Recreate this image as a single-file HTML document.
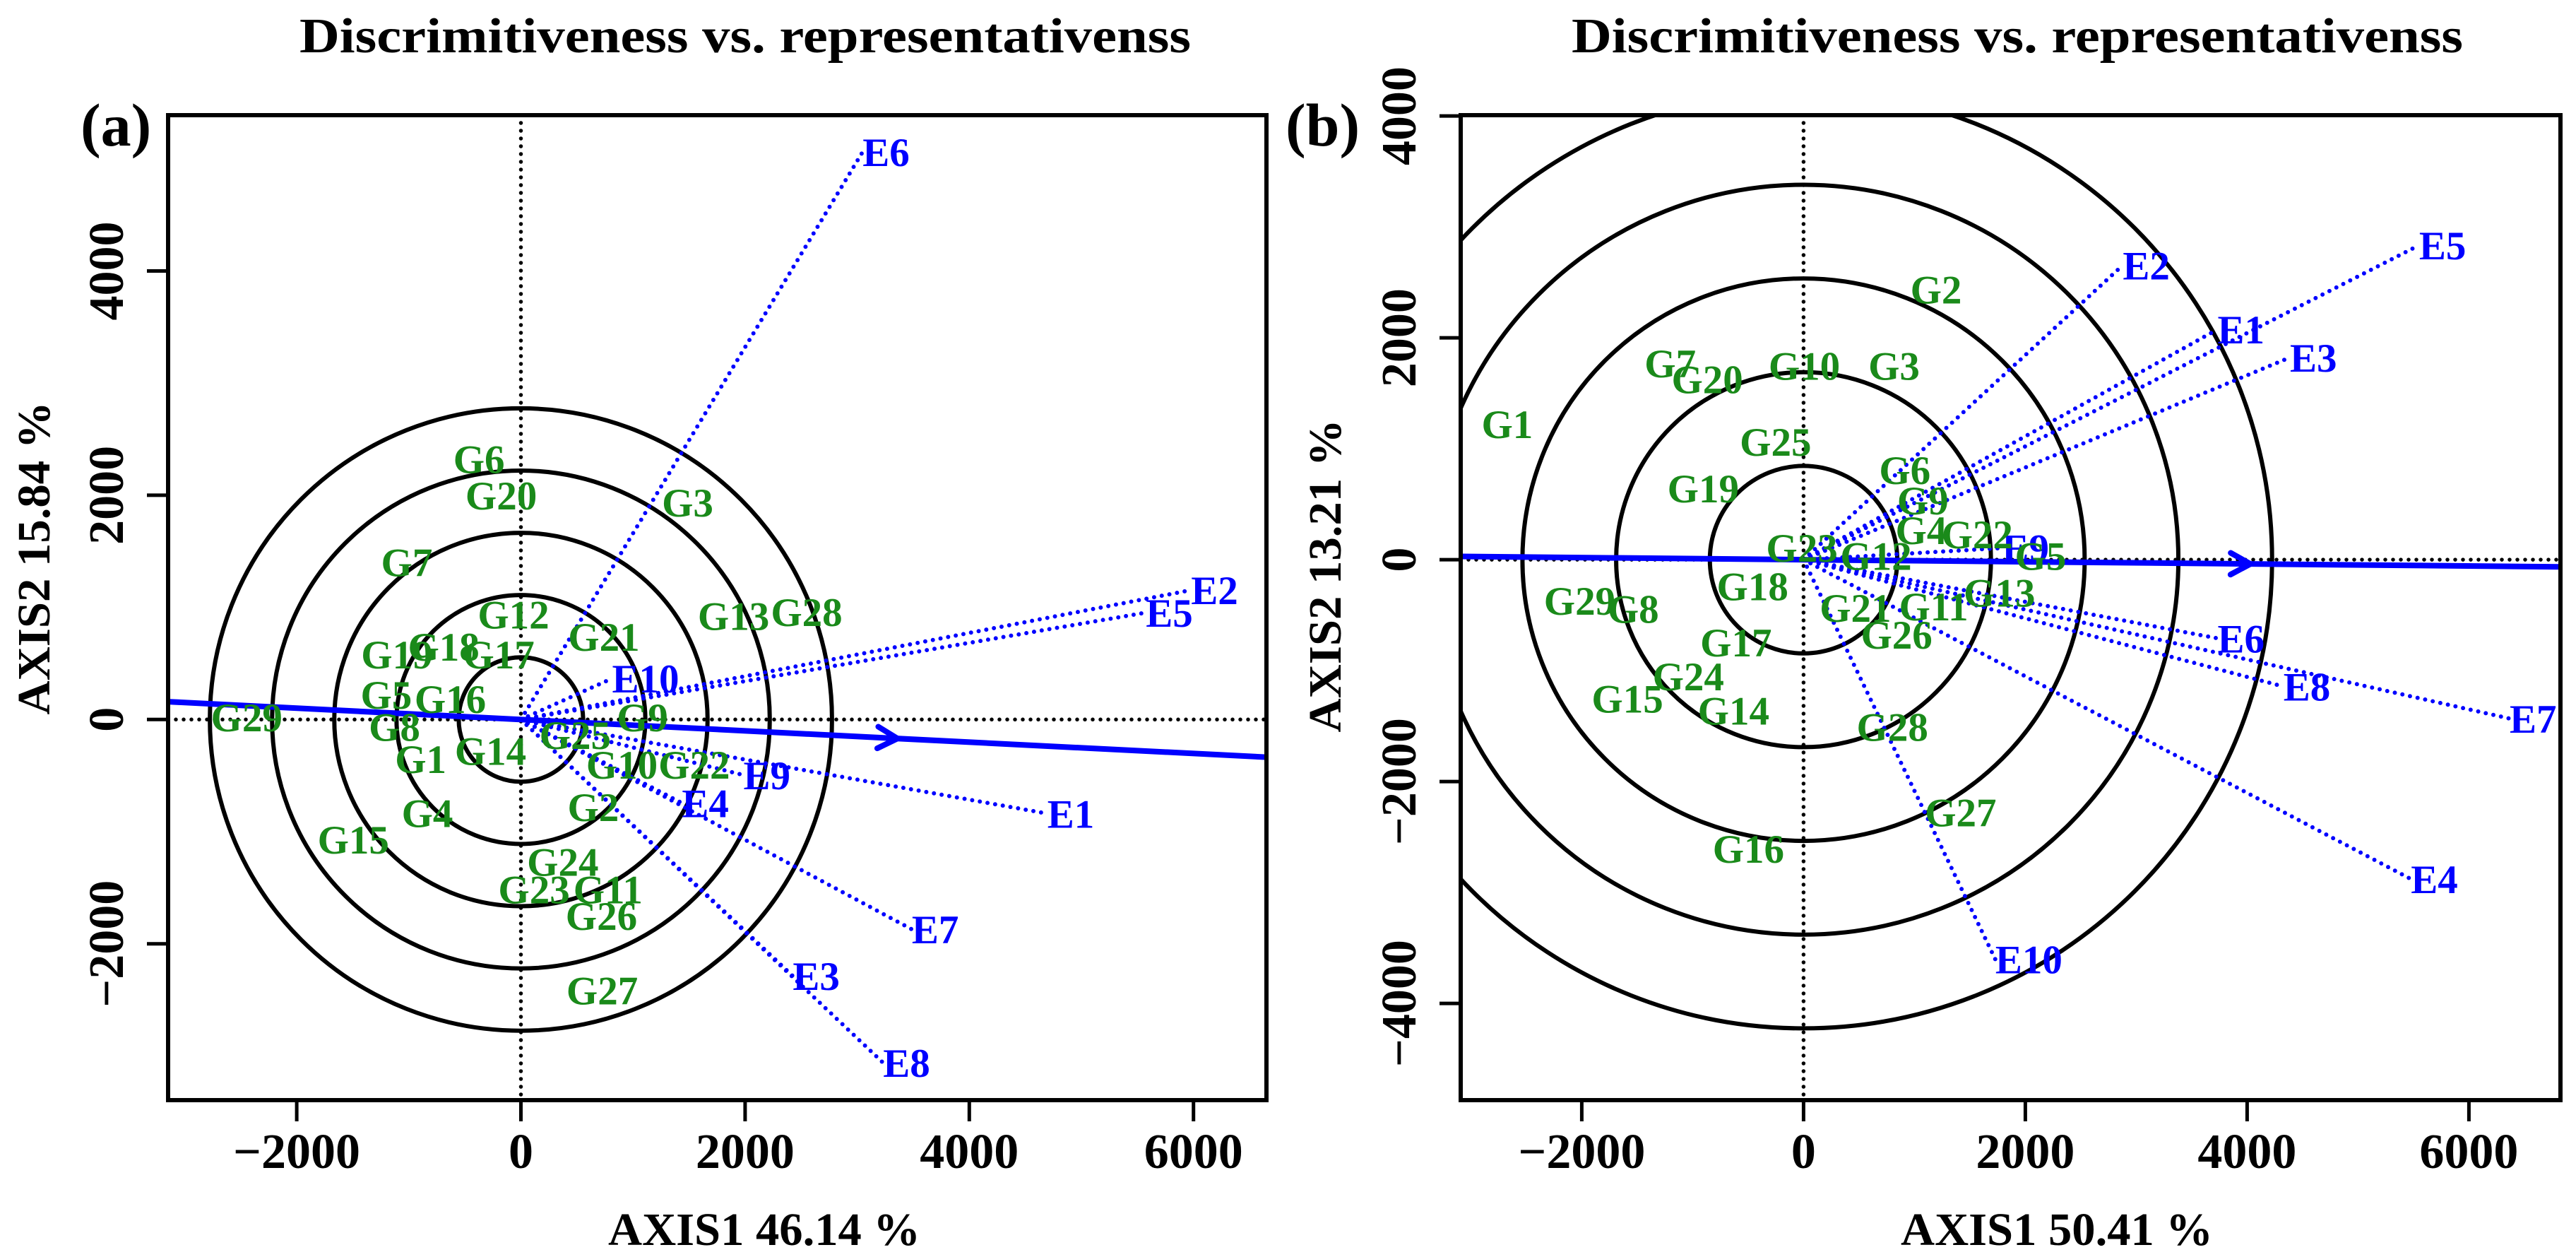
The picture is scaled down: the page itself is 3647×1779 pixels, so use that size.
<!DOCTYPE html>
<html><head><meta charset="utf-8"><style>
html,body{margin:0;padding:0;background:#fff;}
svg{display:block;font-family:"Liberation Serif","Times New Roman",serif;font-weight:bold;}
text{font-family:"Liberation Serif","Times New Roman",serif;font-weight:bold;}
</style></head><body>
<svg id="chart" width="3647" height="1779" viewBox="0 0 3647 1779" xmlns="http://www.w3.org/2000/svg">
<defs>
<clipPath id="clipA"><rect x="238" y="163" width="1555" height="1394"/></clipPath>
<clipPath id="clipB"><rect x="2068" y="163" width="1557" height="1394"/></clipPath>
</defs>
</svg>
<script>
// ---- Panel (a) data ----
const genoNamesA = ["G6","G20","G3","G7","G12","G21","G13","G28","G19","G18","G17","G5","G16","G29","G8","G1","G14","G25","G9","G10","G22","G2","G4","G15","G24","G23","G11","G26","G27"];
const genoXA = [-374,-176,1487,-1018,-66,740,1897,2549,-1106,-689,-198,-1201,-630,-2447,-1128,-894,-271,484,1084,901,1546,645,-835,-1495,374,117,777,718,725];
const genoYA = [2323,2000,1935,1405,939,738,925,961,581,652,581,222,186,22,-65,-351,-280,-136,22,-401,-401,-781,-832,-1068,-1269,-1513,-1513,-1749,-2416];
const envNamesA = ["E6","E2","E5","E10","E9","E1","E4","E7","E3","E8"];
const envXA = [3048,5978,5575,813,1985,4696,1436,3487,2425,3231];
const envYA = [5061,1154,953,366,-495,-839,-745,-1871,-2287,-3061];
const circleRadiiA = [555,1110,1665,2220,2775];
const aecSlopeA = -0.0505;
const aecArrowXA = 3360;
const xTicksA = [-2000,0,2000,4000,6000];
const yTicksA = [-2000,0,2000,4000];

// ---- Panel (b) data ----
const genoNamesB = ["G2","G7","G20","G10","G3","G1","G25","G6","G19","G9","G4","G22","G23","G12","G5","G18","G29","G8","G13","G21","G11","G26","G17","G24","G15","G14","G28","G27","G16"];
const genoXB = [1195,-1202,-868,7,816,-2672,-252,913,-905,1076,1061,1566,-15,653,2137,-460,-2019,-1536,1766,468,1173,839,-609,-1039,-1588,-631,801,1417,-497];
const genoYB = [2438,1772,1627,1750,1750,1222,1063,810,644,535,268,231,108,36,36,-239,-369,-441,-297,-434,-420,-673,-745,-1049,-1251,-1360,-1505,-2278,-2604];
const envNamesB = ["E2","E5","E1","E3","E9","E6","E8","E7","E4","E10"];
const envXB = [2879,5551,3733,4386,1790,3733,4327,6367,5477,1729];
const envYB = [2655,2835,2076,1823,105,-709,-1143,-1432,-2879,-3602];
const circleRadiiB = [845,1690,2535,3380,4225];
const aecSlopeB = -0.0095;
const aecArrowXB = 4030;
const xTicksB = [-2000,0,2000,4000,6000];
const yTicksB = [-4000,-2000,0,2000,4000];

const NS = "http://www.w3.org/2000/svg";
const FF = "Liberation Serif, Times New Roman, serif";
const svg = document.getElementById("chart");
function mk(tag, attrs, parent){
  const e = document.createElementNS(NS, tag);
  for (const k in attrs) e.setAttribute(k, attrs[k]);
  if (tag === "text") { e.setAttribute("font-family", FF); e.setAttribute("font-weight", "bold"); }
  (parent||svg).appendChild(e);
  return e;
}

function panel(cfg){
  const {L,R,T,B,ox,oy,s,xmin,xmax,clip,key} = cfg;
  const sx = v => ox + v*s;
  const sy = v => oy - v*s;
  const g = mk("g", {});
  
  
  const pg = mk("g", {"clip-path":"url(#"+clip+")"}, g);
  cfg.circles.forEach(r => {
    const c = mk("ellipse", {cx:sx(0), cy:sy(0), rx:r*s, ry:r*s, fill:"none", stroke:"#000", "stroke-width":6}, pg);
    
    
  });
  const dot = {"stroke-width":5.5, "stroke-dasharray":"0 11", "stroke-linecap":"round"};
  const h = mk("line", Object.assign({x1:L, x2:R, y1:sy(0), y2:sy(0), stroke:"#000"}, dot), pg);
  
  
  const v = mk("line", Object.assign({x1:sx(0), x2:sx(0), y1:T, y2:B, stroke:"#000"}, dot), pg);
  
  
  cfg.envX.forEach((x,i) => {
    const y = cfg.envY[i];
    const ln = mk("line", {x1:sx(0), y1:sy(0), x2:sx(x), y2:sy(y), stroke:"#0000ff", "stroke-width":6, "stroke-dasharray":"0 11", "stroke-linecap":"round"}, pg);
    
    
    const t = mk("text", {x:sx(x), y:sy(y)+20, fill:"#0000ff", "font-size":57, "text-anchor":"start"}, pg);
    t.textContent = cfg.envN[i];
    
    
  });
  const aec = mk("line", {x1:sx(xmin), y1:sy(xmin*cfg.slope), x2:sx(xmax), y2:sy(xmax*cfg.slope), stroke:"#0000ff", "stroke-width":8}, pg);
  
  
  const ax = sx(cfg.arrowX), ay = sy(cfg.arrowX*cfg.slope);
  const ang = Math.atan2(-cfg.slope, 1);
  const hl = 32, ha = 0.5;
  const p1x = ax - hl*Math.cos(ang-ha), p1y = ay - hl*Math.sin(ang-ha);
  const p2x = ax - hl*Math.cos(ang+ha), p2y = ay - hl*Math.sin(ang+ha);
  const arr = mk("polyline", {points:`${p1x},${p1y} ${ax},${ay} ${p2x},${p2y}`, fill:"none", stroke:"#0000ff", "stroke-width":8, "stroke-linecap":"round"}, pg);
  
  
  cfg.genX.forEach((x,i) => {
    const t = mk("text", {x:sx(x), y:sy(cfg.genY[i])+20, fill:"#1a8a1a", "font-size":57, "text-anchor":"middle"}, pg);
    t.textContent = cfg.genN[i];
    
    
  });
  const box = mk("rect", {x:L, y:T, width:R-L, height:B-T, fill:"none", stroke:"#000", "stroke-width":6}, g);
  
  
  cfg.xt.forEach(tv => {
    const tk = mk("line", {x1:sx(tv), x2:sx(tv), y1:B, y2:B+30, stroke:"#000", "stroke-width":5}, g);
    
    
    const tl = mk("text", {x:sx(tv), y:1653, "font-size":70, "text-anchor":"middle"}, g);
    tl.textContent = tv < 0 ? "\u2212" + Math.abs(tv) : String(tv);
    
    
  });
  cfg.yt.forEach(tv => {
    const tk = mk("line", {x1:L-30, x2:L, y1:sy(tv), y2:sy(tv), stroke:"#000", "stroke-width":5}, g);
    
    
    const bx = L - 64;
    const tl = mk("text", {x:bx, y:sy(tv), "font-size":70, "text-anchor":"middle", transform:`rotate(-90 ${bx} ${sy(tv)})`}, g);
    tl.textContent = tv < 0 ? "\u2212" + Math.abs(tv) : String(tv);
    
    
  });
  const ti = mk("text", {x:cfg.titleX, y:74, "font-size":70, "text-anchor":"middle", textLength:1262, lengthAdjust:"spacingAndGlyphs"}, g);
  ti.textContent = "Discrimitiveness vs. representativenss";
  
  
  const pl = mk("text", {x:cfg.tagX, y:206, "font-size":86}, g);
  pl.textContent = cfg.tag;
  
  
  const xt = mk("text", {x:cfg.xtitleX, y:1762, "font-size":66, "text-anchor":"middle", textLength:442, lengthAdjust:"spacingAndGlyphs"}, g);
  xt.textContent = cfg.xtitle;
  
  
  const yx = cfg.ytitleX, yy = cfg.ytitleY;
  const yt = mk("text", {x:yx, y:yy, "font-size":66, "text-anchor":"middle", textLength:443, lengthAdjust:"spacingAndGlyphs", transform:`rotate(-90 ${yx} ${yy})`}, g);
  yt.textContent = cfg.ytitle;
  
  
}

panel({key:"a", L:238, R:1793, T:163, B:1557, ox:737.5, oy:1018.3, s:0.1587,
  xmin:-3200, xmax:6700, clip:"clipA", circles:circleRadiiA,
  envX:envXA, envY:envYA, envN:envNamesA, genX:genoXA, genY:genoYA, genN:genoNamesA,
  slope:aecSlopeA, arrowX:aecArrowXA, xt:xTicksA, yt:yTicksA,
  titleX:1055, tag:"(a)", tagX:114, xtitle:"AXIS1 46.14 %", xtitleX:1082,
  ytitle:"AXIS2 15.84 %", ytitleX:70, ytitleY:790});
panel({key:"b", L:2068, R:3625, T:163, B:1557, ox:2553.4, oy:792.1, s:0.157,
  xmin:-3200, xmax:6900, clip:"clipB", circles:circleRadiiB,
  envX:envXB, envY:envYB, envN:envNamesB, genX:genoXB, genY:genoYB, genN:genoNamesB,
  slope:aecSlopeB, arrowX:aecArrowXB, xt:xTicksB, yt:yTicksB,
  titleX:2856, tag:"(b)", tagX:1820, xtitle:"AXIS1 50.41 %", xtitleX:2912,
  ytitle:"AXIS2 13.21 %", ytitleX:1898, ytitleY:815});
</script>
</body></html>
